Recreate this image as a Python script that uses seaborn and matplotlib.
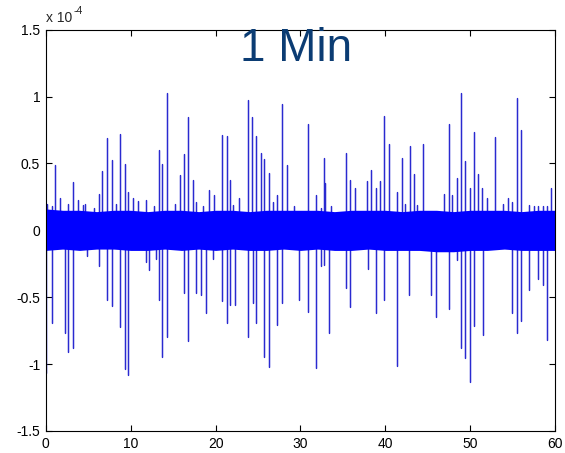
import matplotlib
matplotlib.use("Agg")
import matplotlib.pyplot as plt
import numpy as np
import pandas as pd
import seaborn as sns

# Spike events, time in seconds, amplitude in units of 1e-4
up_t = [0.12, 0.74, 1.13, 1.68, 2.67, 3.18, 3.76, 4.35, 4.62, 5.72, 6.28, 6.67,
        7.22, 7.77, 8.27, 8.71, 9.30, 9.69, 10.25, 10.84, 11.81, 12.75, 13.31,
        13.70, 14.25, 15.23, 15.78, 16.33, 16.76, 17.31, 17.70, 18.48, 19.23,
        19.79, 20.73, 21.32, 21.75, 22.00, 22.80, 23.79, 24.34, 24.77, 25.32,
        25.75, 26.27, 26.81, 27.24, 27.80, 28.38, 29.20, 30.86, 31.80, 32.39,
        32.78, 32.90, 33.60, 35.37, 35.80, 36.40, 37.88, 38.32, 38.87, 39.42,
        39.81, 40.40, 41.34, 41.93, 42.30, 42.87, 43.42, 43.74, 44.40, 46.88,
        47.47, 47.86, 48.41, 48.95, 49.39, 49.90, 50.45, 50.92, 51.43, 51.98,
        52.96, 53.90, 54.49, 54.90, 55.48, 56.02, 56.96, 57.50, 58.00, 58.50,
        59.00, 59.44]
up_v = [0.20, 0.18, 0.485, 0.24, 0.20, 0.36, 0.23, 0.19, 0.20, 0.17, 0.275, 0.44,
        0.69, 0.527, 0.20, 0.72, 0.495, 0.285, 0.24, 0.22, 0.225, 0.18, 0.60,
        0.495, 1.03, 0.20, 0.415, 0.57, 0.845, 0.38, 0.215, 0.18, 0.30,
        0.265, 0.715, 0.705, 0.38, 0.19, 0.24, 0.975, 0.845, 0.705, 0.58,
        0.53, 0.43, 0.215, 0.265, 0.945, 0.485, 0.18, 0.794, 0.265, 0.17,
        0.54, 0.353, 0.18, 0.582, 0.38, 0.318, 0.37, 0.45, 0.318, 0.37,
        0.856, 0.642, 0.283, 0.54, 0.20, 0.634, 0.423, 0.19, 0.642, 0.275,
        0.794, 0.265, 0.388, 1.03, 0.52, 0.318, 0.739, 0.423, 0.318, 0.24,
        0.697, 0.20, 0.24, 0.21, 0.986, 0.75, 0.19, 0.18, 0.18, 0.18,
        0.18, 0.318]

down_t = [0.05, 0.74, 2.23, 2.66, 3.21, 4.90, 6.28, 7.22, 7.77, 8.75, 9.30, 9.69,
          11.77, 12.17, 13.03, 13.31, 13.70, 14.25, 16.33, 16.76, 17.70, 18.26,
          18.85, 19.75, 20.77, 21.32, 21.75, 22.30, 23.83, 24.38, 24.77, 25.75,
          26.30, 27.24, 27.83, 29.87, 30.86, 31.84, 32.39, 32.78, 33.37, 35.37,
          35.80, 37.93, 38.87, 39.85, 41.34, 42.83, 45.38, 45.94, 47.47, 48.41,
          48.95, 49.35, 49.94, 50.48, 51.47, 54.89, 55.48, 55.98, 56.96, 57.95,
          58.54, 59.05]
down_v = [-1.07, -0.69, -0.77, -0.91, -0.88, -0.19, -0.265, -0.52, -0.565, -0.725,
          -1.04, -1.08, -0.233, -0.295, -0.216, -0.52, -0.944, -0.80, -0.47, -0.83,
          -0.47, -0.48, -0.62, -0.216, -0.53, -0.694, -0.56, -0.555, -0.80, -0.545,
          -0.694, -0.95, -1.02, -0.704, -0.545, -0.52, -0.607, -1.03, -0.265, -0.26,
          -0.77, -0.432, -0.575, -0.29, -0.62, -0.52, -1.013, -0.485, -0.485,
          -0.645, -0.59, -0.22, -0.88, -0.956, -1.135, -0.714, -0.784, -0.62,
          -0.77, -0.68, -0.445, -0.365, -0.41, -0.82]

# Envelope of the dense background noise, sampled every 2 s
env_t = list(range(0, 61, 2))
env_hi = [0.16, 0.15, 0.15, 0.14, 0.15, 0.15, 0.14, 0.15, 0.15, 0.14, 0.15,
          0.15, 0.14, 0.15, 0.15, 0.15, 0.15, 0.14, 0.15, 0.15, 0.15, 0.14,
          0.15, 0.15, 0.14, 0.15, 0.15, 0.15, 0.14, 0.15, 0.15]
env_lo = [-0.15, -0.14, -0.15, -0.14, -0.14, -0.15, -0.15, -0.14, -0.15, -0.14,
          -0.15, -0.14, -0.15, -0.15, -0.14, -0.15, -0.14, -0.15, -0.15, -0.14,
          -0.15, -0.15, -0.15, -0.16, -0.16, -0.15, -0.15, -0.14, -0.15, -0.15,
          -0.15]

x_ticks = [0, 10, 20, 30, 40, 50, 60]
y_ticks = [-1.5, -1, -0.5, 0, 0.5, 1, 1.5]

sns.set_style("ticks")
plt.rcParams["font.family"] = ["Liberation Sans", "DejaVu Sans"]
plt.rcParams["axes.unicode_minus"] = False

# Each spike is a short excursion from the baseline and back
rows = []
for i, (t, v) in enumerate(zip(up_t + down_t, up_v + down_v)):
    rows += [(i, t, 0.0), (i, t, v), (i, t, 0.0)]
trace = pd.DataFrame(rows, columns=["event", "time", "amp"])

fig = plt.figure(figsize=(5.65, 4.53), dpi=100)
fig.patch.set_facecolor("white")
ax = fig.add_axes([0.0809, 0.0486, 0.9019, 0.8858])

# Spikes sit underneath the solid noise band
sns.lineplot(data=trace, x="time", y="amp", units="event", estimator=None,
             sort=False, color="#2a2ad0", lw=0.9, ax=ax, legend=False, zorder=2)
ax.fill_between(env_t, env_lo, env_hi, color="#0000ff", lw=0, zorder=3)

ax.set_xlim(0, 60)
ax.set_ylim(-1.5, 1.5)
ax.set_xticks(x_ticks)
ax.set_yticks(y_ticks)
ax.set_xticklabels([f"{v:g}" for v in x_ticks])
ax.set_yticklabels([f"{v:g}" for v in y_ticks])
ax.set_xlabel("")
ax.set_ylabel("")
ax.tick_params(direction="in", top=True, right=True, length=4, width=0.8,
               labelsize=10, colors="black", pad=4)
for s in ax.spines.values():
    s.set_visible(True)
    s.set_linewidth(0.8)
    s.set_color("black")
    s.set_zorder(5)

fig.text(46 / 565, 1 - 22 / 453, "x 10", fontsize=10, ha="left", va="baseline")
fig.text(74 / 565, 1 - 14 / 453, "-4", fontsize=7.5, ha="left", va="baseline")

fig.text(296 / 565, 1 - 61 / 453, "1 Min", fontsize=33, color="#0b3c73",
         ha="center", va="baseline")

fig.savefig("out.png", dpi=100, facecolor="white")
